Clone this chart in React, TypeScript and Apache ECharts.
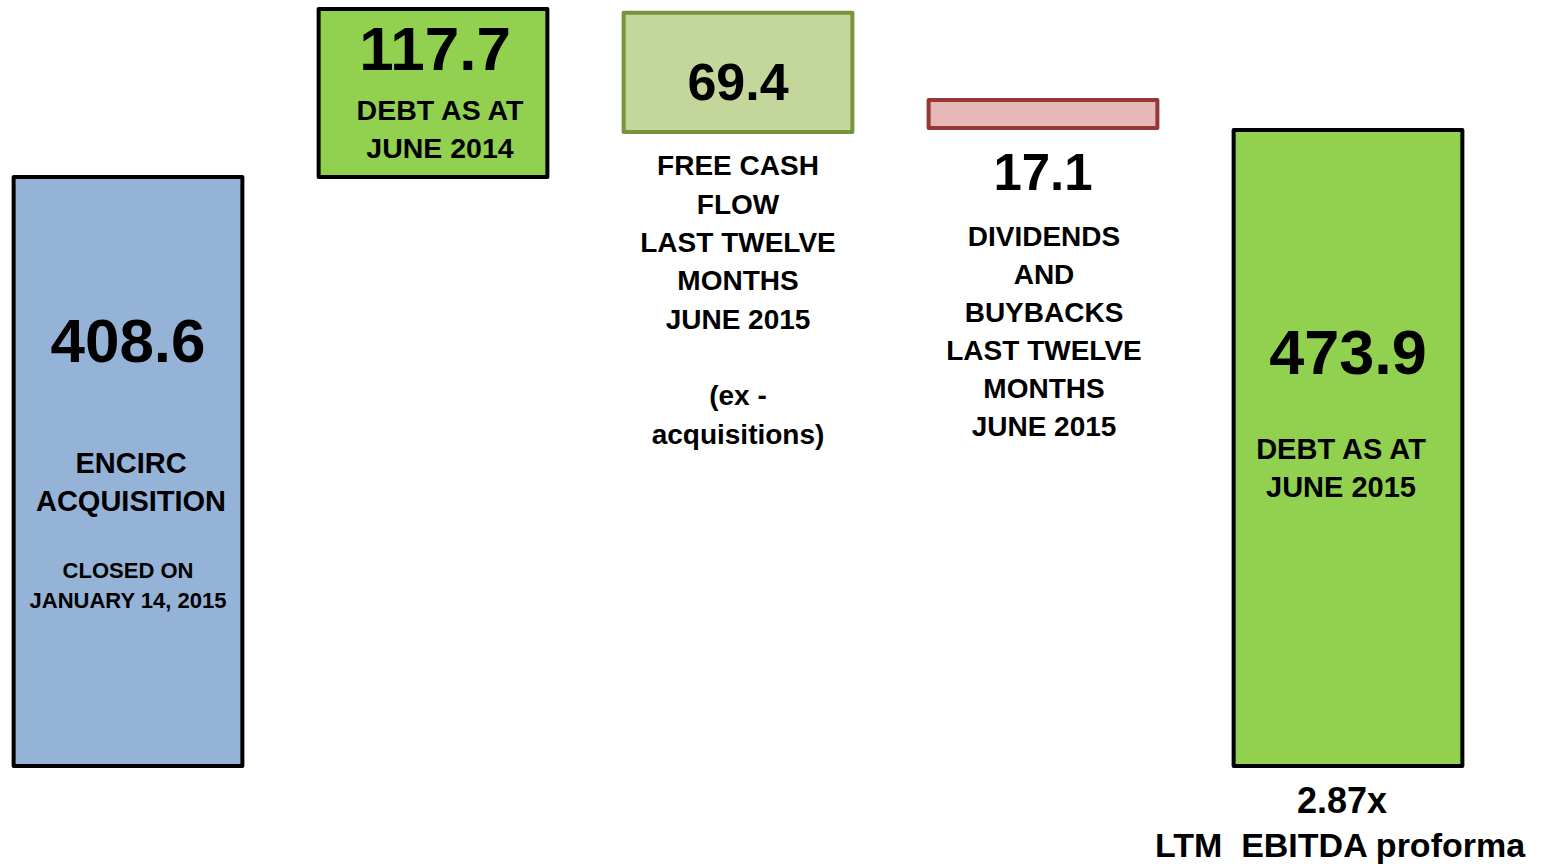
import React, { useEffect, useRef } from 'react';
import * as echarts from 'echarts';

// ---- data ----
const CATEGORIES = ['Encirc acquisition', 'Debt June 2014', 'Free cash flow', 'Dividends and buybacks', 'Debt June 2015'];
const AMOUNTS = [408.6, 117.7, 69.4, 17.1, 473.9];
// drawn extent of each block on the value scale (the slide is not to scale)
const BAR_BOTTOM = [0, 408.6, 439.8, 442.6, 0];
const BAR_TOP = [408.6, 525.1, 522.6, 462.0, 441.2];
const CAPTIONS = [
  'ENCIRC\nACQUISITION',
  'DEBT AS AT\nJUNE 2014',
  'FREE CASH\nFLOW\nLAST TWELVE\nMONTHS\nJUNE 2015\n\n(ex -\nacquisitions)',
  'DIVIDENDS\nAND\nBUYBACKS\nLAST TWELVE\nMONTHS\nJUNE 2015',
  'DEBT AS AT\nJUNE 2015',
];
const ACQ_NOTE = 'CLOSED ON\nJANUARY 14, 2015';
const LEVERAGE = '2.87x';
const LEVERAGE_NOTE = 'LTM  EBITDA proforma';

// ---- styles / layout ----
const FILLS = ['#95B3D7', '#92D050', '#C3D69B', '#E6B9B8', '#92D050'];
const STROKES = ['#000000', '#000000', '#77933C', '#953735', '#000000'];
const FONT = "'Liberation Sans', Arial, sans-serif";
// per block: number (y, size, dx), caption (top y, size, lineHeight, dx)
const LAYOUT = [
  { numY: 340, numSize: 62, numDx: 0, capTop: 443.5, capSize: 29, capLh: 38, capDx: 3 },
  { numY: 48.5, numSize: 62, numDx: 2, capTop: 90.5, capSize: 28.5, capLh: 38, capDx: 7 },
  { numY: 81.5, numSize: 52, numDx: 0, capTop: 146.8, capSize: 28, capLh: 38.3, capDx: 0 },
  { numY: 172, numSize: 51, numDx: 0, capTop: 217, capSize: 28, capLh: 38, capDx: 1 },
  { numY: 352, numSize: 63, numDx: 0, capTop: 430, capSize: 29, capLh: 38, capDx: -7 },
];

function txt(text: string, x: number, y: number, size: number, va: string, lh?: number) {
  return {
    type: 'text',
    x,
    y,
    style: {
      text,
      fill: '#000',
      fontSize: size,
      fontWeight: 'bold',
      fontFamily: FONT,
      align: 'center',
      verticalAlign: va,
      lineHeight: lh ?? size,
    },
  };
}

function renderItem(params: any, api: any) {
  const i = api.value(0);
  const pBase = api.coord([i, api.value(1)]);
  const pTop = api.coord([i, api.value(2)]);
  const w = api.size([1, 0])[0] * 0.75;
  const cx = pBase[0];
  const L = LAYOUT[i];
  const children: any[] = [
    {
      type: 'rect',
      shape: { x: cx - w / 2, y: pTop[1], width: w, height: pBase[1] - pTop[1] },
      style: { fill: FILLS[i], stroke: STROKES[i], lineWidth: 4, lineJoin: 'round' },
    },
    txt(AMOUNTS[i].toFixed(1), cx + L.numDx, L.numY, L.numSize, 'middle'),
    txt(CAPTIONS[i], cx + L.capDx, L.capTop, L.capSize, 'top', L.capLh),
  ];
  if (i === 0) {
    children.push(txt(ACQ_NOTE, cx, 555.75, 22, 'top', 29.5));
  }
  if (i === 4) {
    children.push(txt(LEVERAGE, cx - 6, 800, 36, 'middle'));
    children.push(txt(LEVERAGE_NOTE, cx - 8, 845, 34, 'middle'));
  }
  return { type: 'group', children };
}

export default function App() {
  const ref = useRef<HTMLDivElement>(null);
  useEffect(() => {
    const chart = echarts.init(ref.current!, null, { renderer: 'svg' });
    chart.setOption({
      animation: false,
      backgroundColor: '#ffffff',
      grid: { left: -24.5, width: 1525, top: 2, bottom: 98, outerBoundsMode: 'none', containLabel: false },
      xAxis: {
        type: 'category',
        data: CATEGORIES,
        show: false,
      },
      yAxis: { type: 'value', min: 0, max: 530, show: false },
      series: [
        {
          type: 'custom',
          renderItem,
          clip: false,
          data: CATEGORIES.map((_, i) => [i, BAR_BOTTOM[i], BAR_TOP[i]]),
        },
      ],
    });
    return () => chart.dispose();
  }, []);
  return (
    <div
      ref={ref}
      style={{ position: 'absolute', left: 0, top: 0, width: 1545, height: 864, background: '#fff' }}
    />
  );
}
